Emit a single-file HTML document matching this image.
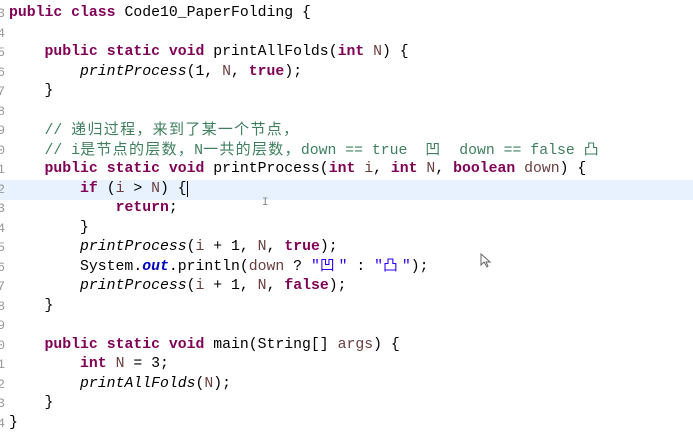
<!DOCTYPE html>
<html><head><meta charset="utf-8"><style>
body{margin:0;width:693px;height:440px;background:#fff;overflow:hidden;position:relative;font-family:"Liberation Mono","Noto Sans CJK SC",monospace;font-size:14.8px;color:#000}
.l{position:absolute;left:9px;height:19.5px;line-height:19.5px;white-space:pre}
.n{position:absolute;left:-14px;width:19px;text-align:right;height:19.5px;line-height:19.5px;color:#999;font-size:13px}
.k{color:#7f0055;font-weight:bold}
.c{color:#3f7f5f}
.z{font-size:15px;letter-spacing:1.3px}
.s{color:#2a00ff}
.p{color:#6a3e3e}
.i{font-style:italic}
.o{color:#0000c0;font-weight:bold;font-style:italic}
.hl{position:absolute;left:0;width:693px;top:180px;height:20px;background:#e8f2fe}
</style></head><body>
<div class="hl"></div>
<div class="n" style="top:4px">3</div><div class="n" style="top:23.5px">4</div><div class="n" style="top:43px">5</div><div class="n" style="top:62.5px">6</div><div class="n" style="top:82px">7</div><div class="n" style="top:101.5px">8</div><div class="n" style="top:121px">9</div><div class="n" style="top:140.5px">0</div><div class="n" style="top:160px">1</div><div class="n" style="top:179.5px">2</div><div class="n" style="top:199px">3</div><div class="n" style="top:218.5px">4</div><div class="n" style="top:238px">5</div><div class="n" style="top:257.5px">6</div><div class="n" style="top:277px">7</div><div class="n" style="top:296.5px">8</div><div class="n" style="top:316px">9</div><div class="n" style="top:335.5px">0</div><div class="n" style="top:355px">1</div><div class="n" style="top:374.5px">2</div><div class="n" style="top:394px">3</div><div class="n" style="top:413.5px">4</div>
<div class="l" style="top:4px"><span class="k">public class</span> Code10_PaperFolding {</div>
<div class="l" style="top:43px">    <span class="k">public static void</span> printAllFolds(<span class="k">int</span> <span class="p">N</span>) {</div>
<div class="l" style="top:62.5px">        <span class="i">printProcess</span>(1, <span class="p">N</span>, <span class="k">true</span>);</div>
<div class="l" style="top:82px">    }</div>
<div class="l" style="top:121px">    <span class="c">// <span class="z">递归过程，来到了某一个节点，</span></span></div>
<div class="l" style="top:140.5px">    <span class="c">// i<span class="z">是节点的层数，</span>N<span class="z">一共的层数，</span>down == true  <span class="z">凹</span>  down == false <span class="z">凸</span></span></div>
<div class="l" style="top:160px">    <span class="k">public static void</span> printProcess(<span class="k">int</span> <span class="p">i</span>, <span class="k">int</span> <span class="p">N</span>, <span class="k">boolean</span> <span class="p">down</span>) {</div>
<div class="l" style="top:179.5px">        <span class="k">if</span> (<span class="p">i</span> &gt; <span class="p">N</span>) {<span style="border-left:1px solid #000"></span></div>
<div class="l" style="top:199px">            <span class="k">return</span>;</div>
<div class="l" style="top:218.5px">        }</div>
<div class="l" style="top:238px">        <span class="i">printProcess</span>(<span class="p">i</span> + 1, <span class="p">N</span>, <span class="k">true</span>);</div>
<div class="l" style="top:257.5px">        System.<span class="o">out</span>.println(<span class="p">down</span> ? <span class="s">"凹<span style="padding-left:4px"></span>"</span> : <span class="s">"凸<span style="padding-left:4px"></span>"</span>);</div>
<div class="l" style="top:277px">        <span class="i">printProcess</span>(<span class="p">i</span> + 1, <span class="p">N</span>, <span class="k">false</span>);</div>
<div class="l" style="top:296.5px">    }</div>
<div class="l" style="top:335.5px">    <span class="k">public static void</span> main(String[] <span class="p">args</span>) {</div>
<div class="l" style="top:355px">        <span class="k">int</span> <span class="p">N</span> = 3;</div>
<div class="l" style="top:374.5px">        <span class="i">printAllFolds</span>(<span class="p">N</span>);</div>
<div class="l" style="top:394px">    }</div>
<div class="l" style="top:413.5px">}</div>
<div style="position:absolute;left:262px;top:197px;font-size:11px;color:#888">I</div>
<svg style="position:absolute;left:480px;top:253px" width="12" height="16"><path d="M1 1 L1 12 L4 9 L7 14 L8 13 L6 9 L10 9 Z" fill="#fff" stroke="#666" stroke-width="1"/></svg>
</body></html>
